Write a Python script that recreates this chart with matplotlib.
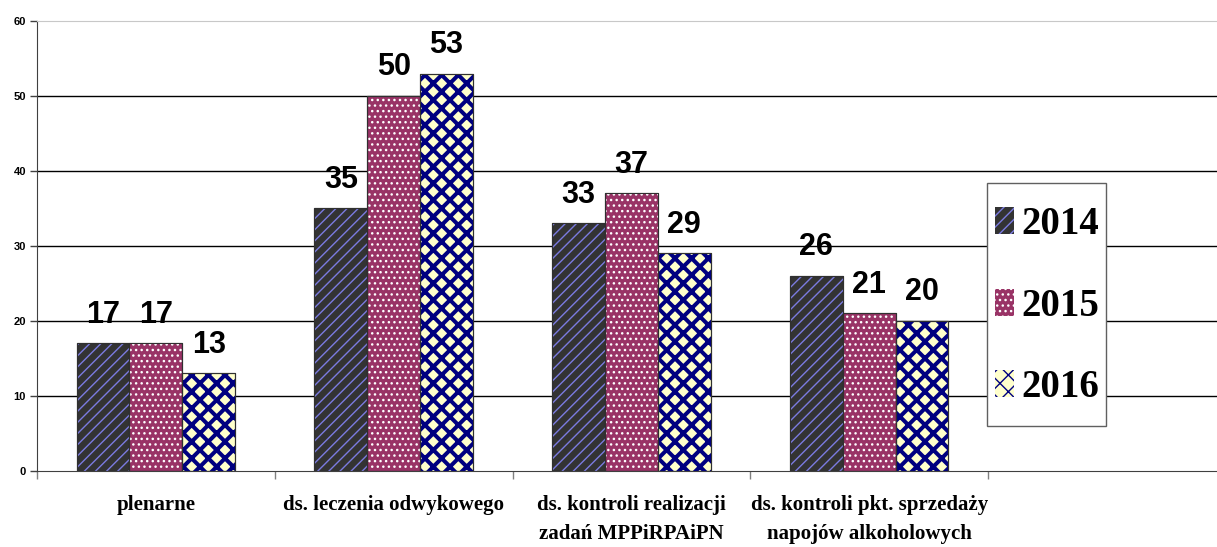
import numpy as np
import matplotlib
matplotlib.use("Agg")
import matplotlib.pyplot as plt
from matplotlib.patches import Patch, Rectangle

categories = [
    "plenarne",
    "ds. leczenia odwykowego",
    "ds. kontroli realizacji\nzadań MPPiRPAiPN",
    "ds. kontroli pkt. sprzedaży\nnapojów alkoholowych",
]
years = ["2014", "2015", "2016"]
v2014 = [17, 35, 33, 26]
v2015 = [17, 50, 37, 21]
v2016 = [13, 53, 29, 20]

# face colour, hatch colour, hatch pattern, hatch linewidth
styles = [
    ("#333333", "#7B7BE0", "///", 1.0),
    ("#993366", "#FFFFFF", "...", 1.0),
    ("#FFFFCC", "#000080", "xx", 2.9),
]

NUM_FONT = ["Liberation Sans", "DejaVu Sans"]
SERIF = ["Liberation Serif", "DejaVu Serif"]

fig = plt.figure(figsize=(12.17, 5.47), dpi=100)
ax = fig.add_axes([0.0304, 0.139, 0.9696, 0.8226])

x = np.arange(len(categories))
width = 0.222
series = [v2014, v2015, v2016]
handles = []
for i, (vals, (face, hcol, hatch, hlw)) in enumerate(zip(series, styles)):
    pos = x + (i - 1) * width
    ax.bar(pos, vals, width, color=face, edgecolor="#303030", linewidth=0.8, zorder=2)
    with plt.rc_context({"hatch.linewidth": hlw}):
        over = ax.bar(pos, vals, width, color="none", edgecolor=hcol,
                      linewidth=0, hatch=hatch, zorder=3)
        for p in over:
            if hasattr(p, "set_hatch_linewidth"):
                p.set_hatch_linewidth(hlw)
    ax.bar(pos, vals, width, color="none", edgecolor="#303030", linewidth=0.8, zorder=4)
    for xp, v in zip(pos, vals):
        ax.annotate(str(v), (xp, v), xytext=(0, 15), textcoords="offset points",
                    ha="center", va="baseline", fontsize=22, fontweight="bold",
                    family=NUM_FONT)
    with plt.rc_context({"hatch.linewidth": hlw}):
        h = Patch(facecolor=face, edgecolor=hcol, hatch=hatch, linewidth=0)
        if hasattr(h, "set_hatch_linewidth"):
            h.set_hatch_linewidth(hlw)
    handles.append(h)

ax.set_ylim(0, 60)
ax.set_xlim(-0.5, 4.463)
ax.set_yticks(range(0, 61, 10))
for yv in range(10, 60, 10):
    ax.axhline(yv, color="black", linewidth=1.0, zorder=1)
ax.set_xticks(np.arange(0, 5) - 0.5, minor=True)
ax.set_xticks(x)
ax.set_xticklabels(categories, family=SERIF, fontweight="bold", fontsize=15,
                   linespacing=1.64)
ax.tick_params(axis="x", which="major", length=0, pad=17)
ax.tick_params(axis="x", which="minor", length=6, color="#808080", width=1)
ax.tick_params(axis="y", length=5, color="#404040", width=1, pad=3)
for lab in ax.get_yticklabels():
    lab.set_fontfamily(NUM_FONT)
    lab.set_fontweight("bold")
    lab.set_fontsize(8)

ax.spines["right"].set_visible(False)
ax.spines["top"].set_color("#C8C8C8")
ax.spines["left"].set_color("#404040")
ax.spines["bottom"].set_color("#404040")

# legend box drawn separately so its size can follow the original
ax.add_patch(Rectangle((0.805, 0.1), 0.1008, 0.54, transform=ax.transAxes,
                       facecolor="white", edgecolor="#606060", linewidth=1.0,
                       zorder=5))
leg = ax.legend(handles, years, loc="center", bbox_to_anchor=(0.856, 0.366),
                prop={"family": SERIF, "weight": "bold", "size": 28},
                handlelength=0.5, handleheight=0.7, handletextpad=0.2,
                labelspacing=1.14, borderpad=0.25, frameon=False)
leg.set_zorder(6)

fig.savefig("out.png", dpi=100)
